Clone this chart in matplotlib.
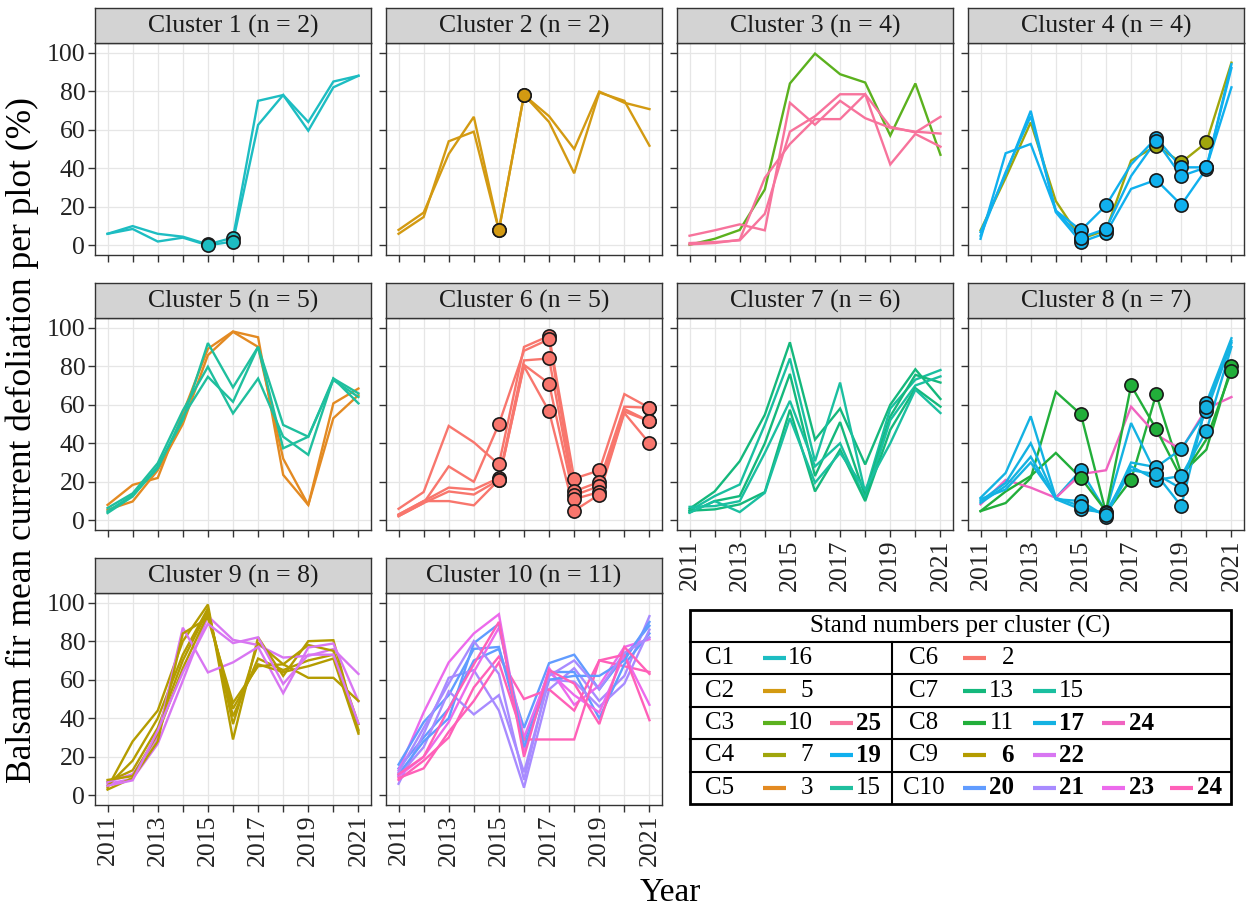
import matplotlib

matplotlib.use("Agg")
import matplotlib.pyplot as plt
import numpy as np

plt.rcParams["font.family"] = ["Liberation Serif", "DejaVu Serif"]

YEARS = list(range(2011, 2022))

# --- data: one list of series per cluster (mean current defoliation, %) ------
C1_STANDS = [16, 16]
C1_LINES = [
    [6, 10, 6, 4.5, 0.5, 4, 75, 78, 64, 85, 88],
    [6, 8.5, 2, 4, 0, 2, 62.5, 78, 59.5, 82, 88],
]
C1_MARKS = [[2015, 2016], [2015, 2016]]

C2_STANDS = [5, 5]
C2_LINES = [
    [6, 14.7, 54, 59, 7.8, 78, 67, 50, 79.8, 74, 70.7],
    [8, 17, 47.4, 66.7, 8, 78, 64, 37.4, 79.3, 75, 51.7],
]
C2_MARKS = [[2015, 2016], [2015, 2016]]

C3_STANDS = [10, 25, 25, 25]
C3_LINES = [
    [0.3, 3.4, 8, 29, 84, 99.5, 88.8, 84.5, 57, 84, 47],
    [5, 7.8, 10.9, 7.8, 74, 62.6, 75, 66, 61, 59, 58],
    [1.2, 1.7, 2.6, 16.4, 59, 67, 78.4, 78.4, 61.5, 58.6, 66.7],
    [0.5, 1.2, 2.9, 35, 52.6, 65.5, 65.5, 78.4, 42, 57.8, 51.2],
]
C3_MARKS = [[], [], [], []]

C4_STANDS = [7, 19, 19, 19]
C4_LINES = [
    [7.8, 35, 63.8, 23, 3.4, 7.8, 44, 51.7, 43, 53.4, 94.8],
    [3.4, 47.8, 52.6, 18, 7.8, 20.7, 42, 55.7, 40.5, 40.5, 82],
    [6.9, 37, 69.8, 17.2, 1.7, 6.4, 29.3, 34, 21, 39.7, 94],
    [5, 38, 67, 18, 4, 8.6, 36, 54.3, 36, 40.5, 92],
]
C4_MARKS = [[2015, 2016, 2018, 2019, 2020]] * 4

C5_STANDS = [3, 3, 15, 15, 15]
C5_LINES = [
    [8, 18.4, 22, 55.5, 89, 98, 95, 23.6, 8, 60.7, 68.4],
    [5.5, 9.8, 26, 50, 85.7, 97.8, 90, 32, 8, 53, 65],
    [3.8, 12.4, 28, 52, 92, 69, 90, 49.5, 43.4, 73.6, 60.7],
    [6.4, 14, 29.7, 57, 79.7, 55.5, 73.6, 43.4, 34, 73.6, 65.9],
    [4.7, 13, 27, 53.8, 74.5, 61.5, 90, 37.4, 43.4, 72.8, 64],
]
C5_MARKS = [[], [], [], [], []]

C6_STANDS = [2, 2, 2, 2, 2]
C6_LINES = [
    [6, 14.7, 49, 40.5, 29, 90, 95.7, 21.7, 25.9, 65.5, 58.4],
    [2.2, 9, 28, 20, 50, 88, 94, 15, 20, 59, 58.4],
    [3, 10, 17, 16, 22, 83, 84, 13, 17.8, 57.8, 51.4],
    [2.2, 9, 15, 13.4, 21, 80.7, 71, 11, 14.7, 56.5, 51.4],
    [3, 10, 10, 7.8, 21, 80, 56.5, 5, 13.4, 55.7, 40],
]
C6_MARKS = [[2015, 2017, 2018, 2019, 2021]] * 5

C7_STANDS = [13, 15, 13, 15, 13, 15]
C7_LINES = [
    [6, 15, 30.7, 54.8, 92.4, 41.9, 58, 29, 60, 78.4, 63],
    [5, 12.6, 18.6, 49.7, 84, 30.7, 71.5, 14.3, 58, 73, 78],
    [4, 10, 12.6, 40, 76, 23, 51, 12.6, 54, 75.5, 71.5],
    [7, 7.4, 10, 35, 62, 28, 40, 10.9, 52, 70, 74.7],
    [5, 5.7, 8.3, 14.7, 57.4, 15, 36.7, 10, 47, 68.6, 59],
    [4, 10, 4.3, 14.3, 53, 19.5, 35, 16, 40, 67.8, 55.7],
]
C7_MARKS = [[]] * 6

C8_STANDS = [11, 17, 24, 11, 17, 17, 17]
C8_LINES = [
    [4.8, 9, 22, 66.7, 55, 4, 21, 65.5, 24, 36.7, 80],
    [11.7, 24.6, 54, 11.7, 26, 4.5, 50.5, 24, 7.4, 61, 94.5],
    [8.3, 21, 17, 11.7, 24, 26, 59, 44.5, 36.7, 58, 64],
    [4.8, 15, 23, 35, 22, 4.8, 70, 47.4, 22, 42, 77.6],
    [10, 19.5, 40, 11, 10, 2, 30, 27.6, 37, 56.5, 92],
    [9, 17.8, 33, 11, 5.7, 4, 28, 21, 23, 46.5, 90],
    [11, 16, 30, 11.7, 7.4, 3, 26, 24, 16.5, 59, 93],
]
C8_MARKS = [
    [2015, 2017, 2018, 2021],
    [2015, 2016, 2018, 2019, 2020],
    [],
    [2015, 2017, 2018, 2021],
    [2015, 2016, 2018, 2019, 2020],
    [2015, 2016, 2018, 2019, 2020],
    [2015, 2016, 2018, 2019, 2020],
]

C9_STANDS = [6, 22, 6, 6, 22, 6, 6, 22]
C9_LINES = [
    [4, 28, 44, 80, 99, 29, 82, 62, 80, 80.5, 33],
    [6, 8.6, 26.7, 59.5, 93, 80.7, 78, 71.5, 72.4, 75.9, 63],
    [5, 18, 40, 73, 97, 37, 79, 68, 78, 75, 37],
    [7, 13, 35, 70, 96, 41, 71, 65, 70, 73, 34],
    [6.9, 11, 30, 87, 63.8, 69, 77, 53, 76.7, 78.8, 48.8],
    [8, 10, 32, 66, 94, 45, 68, 64, 67, 71, 32],
    [3, 9, 28, 84, 92, 48, 67, 68, 61, 61, 49],
    [5, 7.8, 33.6, 63.8, 89, 79, 82, 57.8, 73, 73, 37.4],
]
C9_MARKS = [[]] * 8

C10_STANDS = [20, 21, 23, 24, 20, 21, 23, 24, 20, 21, 24]
C10_LINES = [
    [14, 30, 45, 70, 76, 35, 68.6, 73, 55, 72, 88],
    [6, 32, 61, 65, 44, 4, 55, 66, 49, 62, 93],
    [13, 43, 69, 84, 94, 22, 66, 47, 57, 77, 81],
    [8, 18, 30, 56, 72, 50, 55, 44, 70, 67, 64],
    [16, 38, 52, 76, 77, 28, 64, 64, 40, 68, 84],
    [10, 25, 54, 42, 52, 12, 60, 59, 46, 58, 86],
    [10, 20, 38, 64, 87, 30, 64, 52, 43, 73, 47],
    [9, 14, 33, 49, 69, 29, 29, 29, 70, 73, 39],
    [11, 28, 40, 79, 89, 25, 60, 62, 62, 70, 90],
    [12, 35, 58, 80, 63, 8, 62, 70, 55, 74, 82],
    [11, 20, 45, 68, 90, 20, 65, 58, 37, 77, 63],
]
C10_MARKS = [[]] * 11

CLUSTERS = [
    (C1_STANDS, C1_LINES, C1_MARKS),
    (C2_STANDS, C2_LINES, C2_MARKS),
    (C3_STANDS, C3_LINES, C3_MARKS),
    (C4_STANDS, C4_LINES, C4_MARKS),
    (C5_STANDS, C5_LINES, C5_MARKS),
    (C6_STANDS, C6_LINES, C6_MARKS),
    (C7_STANDS, C7_LINES, C7_MARKS),
    (C8_STANDS, C8_LINES, C8_MARKS),
    (C9_STANDS, C9_LINES, C9_MARKS),
    (C10_STANDS, C10_LINES, C10_MARKS),
]

# legend order of stands and which are printed in bold
LEGEND_STANDS = [[16], [5], [10, 25], [7, 19], [3, 15], [2], [13, 15], [11, 17, 24], [6, 22], [20, 21, 23, 24]]
BOLD_STANDS = [[], [], [25], [19], [], [], [], [17, 24], [6, 22], [20, 21, 23, 24]]

# colour of each stand inside each cluster
PALETTES = [
    {16: "#1DBDC2"},
    {5: "#D39A12"},
    {10: "#5BB11E", 25: "#F7739C"},
    {7: "#A0A60C", 19: "#10B0EE"},
    {3: "#E38A22", 15: "#1FBF9E"},
    {2: "#F8766D"},
    {13: "#14B87C", 15: "#1ABFA0"},
    {11: "#22AE3A", 17: "#14B2E2", 24: "#F063C0"},
    {6: "#B49C00", 22: "#D876F2"},
    {20: "#619CFF", 21: "#A88BFF", 23: "#EC6AEC", 24: "#FF60B8"},
]

# --- layout (pixels of the 1249 x 909 canvas) -------------------------------
FW, FH = 1249, 909
COL_X = [95, 386, 677, 968]
ROW_TOP = [43, 318, 593]
PANEL_W, PANEL_H, STRIP_H = 276, 212, 35
EDGE = "#333333"


def px_box(x, top, w, h):
    return [x / FW, 1 - (top + h) / FH, w / FW, h / FH]


fig = plt.figure(figsize=(FW / 100, FH / 100), dpi=100)

for i, (stands, lines, marks) in enumerate(CLUSTERS):
    row, col = divmod(i, 4)
    x0, top = COL_X[col], ROW_TOP[row]
    ax = fig.add_axes(px_box(x0, top, PANEL_W, PANEL_H))
    pal = PALETTES[i]
    for st, vals in zip(stands, lines):
        ax.plot(YEARS, vals, color=pal[st], lw=1.7, zorder=2, solid_joinstyle="miter")
    for st, vals, mk in zip(stands, lines, marks):
        if not mk:
            continue
        yv = [vals[YEARS.index(y)] for y in mk]
        ax.plot(mk, yv, "o", ms=9.5, mfc=pal[st], mec="#1a1a1a", mew=1.2, zorder=3)

    ax.set_xlim(2010.5, 2021.5)
    ax.set_ylim(-5, 105)
    ax.set_xticks(YEARS)
    ax.set_yticks([0, 20, 40, 60, 80, 100])
    ax.grid(True, color="#E6E6E6", lw=0.9)
    ax.set_axisbelow(True)
    for sp in ax.spines.values():
        sp.set_color(EDGE)
        sp.set_linewidth(1.0)
    ax.tick_params(length=5, width=1, color=EDGE, labelsize=18.5, labelcolor="#222222", pad=2)

    show_x = (row == 2) or (row == 1 and col >= 2)
    if show_x:
        ax.set_xticklabels([str(y) if (y - 2011) % 2 == 0 else "" for y in YEARS], rotation=90)
    else:
        ax.set_xticklabels([])
    if col != 0:
        ax.set_yticklabels([])

    sax = fig.add_axes(px_box(x0, top - STRIP_H, PANEL_W, STRIP_H))
    sax.set_facecolor("#D3D3D3")
    sax.set_xticks([])
    sax.set_yticks([])
    for sp in sax.spines.values():
        sp.set_color(EDGE)
        sp.set_linewidth(1.0)
    sax.text(0.5, 0.47, f"Cluster {i + 1} (n = {len(lines)})", ha="center", va="center",
             fontsize=18.5, color="#1a1a1a", transform=sax.transAxes)

fig.text(22 / FW, 1 - 440 / FH, "Balsam fir mean current defoliation per plot (%)",
         rotation=90, ha="center", va="center", fontsize=25.5)
fig.text(670 / FW, 1 - 893 / FH, "Year", ha="center", va="center", fontsize=24)

# --- legend table -----------------------------------------------------------
L, R, T, B = 690, 1231, 610, 804
lax = fig.add_axes(px_box(L - 5, T - 5, R - L + 10, B - T + 10))
lax.set_xlim(L - 5, R + 5)
lax.set_ylim(B + 5, T - 5)
lax.axis("off")
lax.add_patch(plt.Rectangle((L, T), R - L, B - T, fill=False, lw=2, ec="black"))
title_b = 642
row_h = (B - title_b) / 5
mid = 892
lax.plot([L, R], [title_b, title_b], color="black", lw=1.5)
lax.plot([mid, mid], [title_b, B], color="black", lw=1.5)
for k in range(1, 5):
    yy = title_b + k * row_h
    lax.plot([L, R], [yy, yy], color="black", lw=1.5)
lax.text((L + R) / 2, (T + title_b) / 2, "Stand numbers per cluster (C)", ha="center",
         va="center", fontsize=18)

LABEL_X = [720, 924]
DASH_X = [[763, 830], [963, 1033, 1102, 1170]]
DASH_W = 23
NUM_R = [[813, 881], [1014, 1084, 1154, 1222]]
for i, stands in enumerate(LEGEND_STANDS):
    side, r = divmod(i, 5)
    yc = title_b + (r + 0.5) * row_h
    lax.text(LABEL_X[side], yc, f"C{i + 1}", ha="center", va="center", fontsize=18)
    for j, st in enumerate(stands):
        dx = DASH_X[side][j]
        lax.plot([dx, dx + DASH_W], [yc, yc], color=PALETTES[i][st], lw=3, solid_capstyle="butt")
        lax.text(NUM_R[side][j], yc, str(st), ha="right", va="center", fontsize=18,
                 fontweight="bold" if st in BOLD_STANDS[i] else "normal")

fig.savefig("out.png", dpi=100)
